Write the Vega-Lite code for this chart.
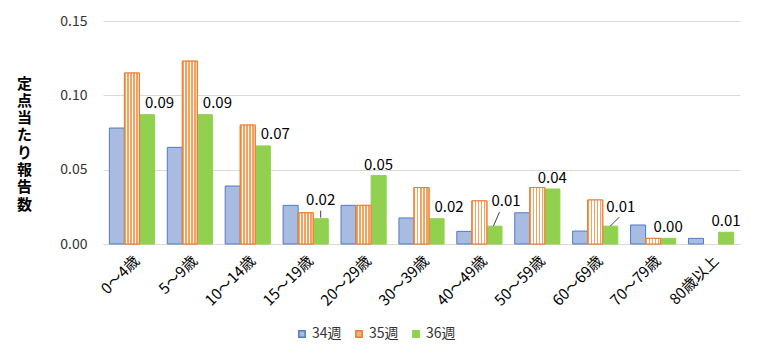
{
  "$schema": "https://vega.github.io/schema/vega-lite/v6.json",
  "width": 637,
  "height": 223,
  "autosize": {"type": "none"},
  "padding": {"left": 103, "top": 21, "right": 31, "bottom": 110},
  "background": "white",
  "config": {"font": "Noto Sans CJK JP", "view": {"stroke": null}},
  "data": {
    "values": [
      {"age": "0～4歳", "week": "34週", "value": 0.078},
      {"age": "0～4歳", "week": "35週", "value": 0.115},
      {"age": "0～4歳", "week": "36週", "value": 0.087},
      {"age": "5～9歳", "week": "34週", "value": 0.065},
      {"age": "5～9歳", "week": "35週", "value": 0.123},
      {"age": "5～9歳", "week": "36週", "value": 0.087},
      {"age": "10～14歳", "week": "34週", "value": 0.039},
      {"age": "10～14歳", "week": "35週", "value": 0.080},
      {"age": "10～14歳", "week": "36週", "value": 0.066},
      {"age": "15～19歳", "week": "34週", "value": 0.026},
      {"age": "15～19歳", "week": "35週", "value": 0.021},
      {"age": "15～19歳", "week": "36週", "value": 0.017},
      {"age": "20～29歳", "week": "34週", "value": 0.026},
      {"age": "20～29歳", "week": "35週", "value": 0.026},
      {"age": "20～29歳", "week": "36週", "value": 0.046},
      {"age": "30～39歳", "week": "34週", "value": 0.0175},
      {"age": "30～39歳", "week": "35週", "value": 0.038},
      {"age": "30～39歳", "week": "36週", "value": 0.017},
      {"age": "40～49歳", "week": "34週", "value": 0.0085},
      {"age": "40～49歳", "week": "35週", "value": 0.029},
      {"age": "40～49歳", "week": "36週", "value": 0.012},
      {"age": "50～59歳", "week": "34週", "value": 0.021},
      {"age": "50～59歳", "week": "35週", "value": 0.038},
      {"age": "50～59歳", "week": "36週", "value": 0.037},
      {"age": "60～69歳", "week": "34週", "value": 0.0087},
      {"age": "60～69歳", "week": "35週", "value": 0.0296},
      {"age": "60～69歳", "week": "36週", "value": 0.012},
      {"age": "70～79歳", "week": "34週", "value": 0.0128},
      {"age": "70～79歳", "week": "35週", "value": 0.0038},
      {"age": "70～79歳", "week": "36週", "value": 0.0038},
      {"age": "80歳以上", "week": "34週", "value": 0.0038},
      {"age": "80歳以上", "week": "36週", "value": 0.0079}
    ]
  },
  "layer": [
    {
      "mark": {"type": "bar", "strokeWidth": 1},
      "encoding": {
        "x": {
          "field": "age", "type": "nominal", "sort": null,
          "scale": {"paddingInner": 0.22, "paddingOuter": 0.11},
          "axis": {
            "title": null, "labelAngle": -45, "ticks": false, "domainColor": "#D9D9D9",
            "labelFontSize": 15, "labelColor": "#000000", "labelPadding": 9, "grid": false
          }
        },
        "xOffset": {"field": "week", "type": "nominal", "sort": ["34週", "35週", "36週"]},
        "y": {
          "field": "value", "type": "quantitative",
          "scale": {"domain": [0, 0.15], "nice": false},
          "axis": {
            "values": [0, 0.05, 0.1, 0.15], "format": ".2f", "domain": false, "ticks": false,
            "gridColor": "#D9D9D9", "labelPadding": 16, "labelFontSize": 14, "labelColor": "#333333",
            "title": ["定", "点", "当", "た", "り", "報", "告", "数"],
            "titleAngle": 0, "titleAlign": "center", "titleBaseline": "top",
            "titleX": -79, "titleY": 55, "titleFontSize": 15, "titleLineHeight": 17.3,
            "titleColor": "#000000", "titleFontWeight": "bold"
          }
        },
        "color": {
          "field": "week", "type": "nominal",
          "scale": {"domain": ["34週", "35週", "36週"], "range": ["#A7BCE0", "#F6B27A", "#92D050"]},
          "legend": {
            "title": null, "orient": "none", "legendX": 192, "legendY": 306,
            "direction": "horizontal", "symbolType": "square", "symbolSize": 40,
            "labelFontSize": 14, "labelColor": "#333333", "labelOffset": 3, "columnPadding": 10,
            "padding": 0
          }
        },
        "stroke": {
          "field": "week", "type": "nominal",
          "scale": {"domain": ["34週", "35週", "36週"], "range": ["#4F7CC4", "#ED7D31", "#92D050"]},
          "legend": null
        }
      }
    },
    {
      "transform": [{"filter": "datum.week === '35週'"}],
      "mark": {
        "type": "bar", "stroke": "#ED7D31", "strokeWidth": 1,
        "fill": {
          "gradient": "linear", "x1": 0, "x2": 1, "y1": 0, "y2": 0,
          "stops": [
            {"offset": 0, "color": "#F4A25D"}, {"offset": 0.1, "color": "#F4A25D"},
            {"offset": 0.1, "color": "#FFFFFF"}, {"offset": 0.2, "color": "#FFFFFF"},
            {"offset": 0.2, "color": "#F4A25D"}, {"offset": 0.3, "color": "#F4A25D"},
            {"offset": 0.3, "color": "#FFFFFF"}, {"offset": 0.4, "color": "#FFFFFF"},
            {"offset": 0.4, "color": "#F4A25D"}, {"offset": 0.5, "color": "#F4A25D"},
            {"offset": 0.5, "color": "#FFFFFF"}, {"offset": 0.6, "color": "#FFFFFF"},
            {"offset": 0.6, "color": "#F4A25D"}, {"offset": 0.7, "color": "#F4A25D"},
            {"offset": 0.7, "color": "#FFFFFF"}, {"offset": 0.8, "color": "#FFFFFF"},
            {"offset": 0.8, "color": "#F4A25D"}, {"offset": 0.9, "color": "#F4A25D"},
            {"offset": 0.9, "color": "#FFFFFF"}, {"offset": 1, "color": "#F4A25D"}
          ]
        }
      },
      "encoding": {
        "x": {"field": "age", "type": "nominal", "sort": null},
        "xOffset": {"field": "week", "type": "nominal", "sort": ["34週", "35週", "36週"]},
        "y": {"field": "value", "type": "quantitative"}
      }
    },
    {
      "transform": [{"filter": "datum.week === '36週' && indexof(['0～4歳','5～9歳','10～14歳','30～39歳'], datum.age) >= 0"}],
      "mark": {"type": "text", "align": "left", "baseline": "middle", "dx": 13, "dy": -12, "fontSize": 15, "color": "#000000"},
      "encoding": {
        "x": {"field": "age", "type": "nominal", "sort": null},
        "y": {"field": "value", "type": "quantitative"},
        "text": {"field": "value", "type": "quantitative", "format": ".2f"}
      }
    },
    {
      "transform": [{"filter": "datum.week === '36週' && indexof(['20～29歳','50～59歳','70～79歳','80歳以上'], datum.age) >= 0"}],
      "mark": {"type": "text", "align": "center", "baseline": "middle", "dx": 15, "dy": -11, "fontSize": 15, "color": "#000000"},
      "encoding": {
        "x": {"field": "age", "type": "nominal", "sort": null},
        "y": {"field": "value", "type": "quantitative"},
        "text": {"field": "value", "type": "quantitative", "format": ".2f"}
      }
    },
    {
      "transform": [{"filter": "datum.week === '36週' && datum.age === '15～19歳'"}],
      "mark": {"type": "text", "align": "center", "baseline": "middle", "dx": 15, "dy": -19, "fontSize": 15, "color": "#000000"},
      "encoding": {
        "x": {"field": "age", "type": "nominal", "sort": null},
        "y": {"field": "value", "type": "quantitative"},
        "text": {"field": "value", "type": "quantitative", "format": ".2f"}
      }
    },
    {
      "transform": [{"filter": "datum.week === '36週' && datum.age === '40～49歳'"}],
      "mark": {"type": "text", "align": "left", "baseline": "middle", "dx": 12, "dy": -25, "fontSize": 15, "color": "#000000"},
      "encoding": {
        "x": {"field": "age", "type": "nominal", "sort": null},
        "y": {"field": "value", "type": "quantitative"},
        "text": {"field": "value", "type": "quantitative", "format": ".2f"}
      }
    },
    {
      "transform": [{"filter": "datum.week === '36週' && datum.age === '60～69歳'"}],
      "mark": {"type": "text", "align": "left", "baseline": "middle", "dx": 11, "dy": -19, "fontSize": 15, "color": "#000000"},
      "encoding": {
        "x": {"field": "age", "type": "nominal", "sort": null},
        "y": {"field": "value", "type": "quantitative"},
        "text": {"field": "value", "type": "quantitative", "format": ".2f"}
      }
    },
    {
      "transform": [{"filter": "datum.week === '36週' && datum.age === '15～19歳'"}],
      "mark": {"type": "rule", "color": "#404040", "strokeWidth": 1, "xOffset": 15, "x2Offset": 15, "yOffset": -1, "y2Offset": -8},
      "encoding": {
        "x": {"field": "age", "type": "nominal", "sort": null},
        "x2": {"field": "age"},
        "y": {"field": "value", "type": "quantitative"},
        "y2": {"field": "value"}
      }
    },
    {
      "transform": [{"filter": "datum.week === '36週' && datum.age === '40～49歳'"}],
      "mark": {"type": "rule", "color": "#404040", "strokeWidth": 1, "xOffset": 14, "x2Offset": 20, "yOffset": 0, "y2Offset": -14},
      "encoding": {
        "x": {"field": "age", "type": "nominal", "sort": null},
        "x2": {"field": "age"},
        "y": {"field": "value", "type": "quantitative"},
        "y2": {"field": "value"}
      }
    },
    {
      "transform": [{"filter": "datum.week === '36週' && datum.age === '60～69歳'"}],
      "mark": {"type": "rule", "color": "#404040", "strokeWidth": 1, "xOffset": 15, "x2Offset": 24, "yOffset": 0, "y2Offset": -9},
      "encoding": {
        "x": {"field": "age", "type": "nominal", "sort": null},
        "x2": {"field": "age"},
        "y": {"field": "value", "type": "quantitative"},
        "y2": {"field": "value"}
      }
    }
  ]
}
